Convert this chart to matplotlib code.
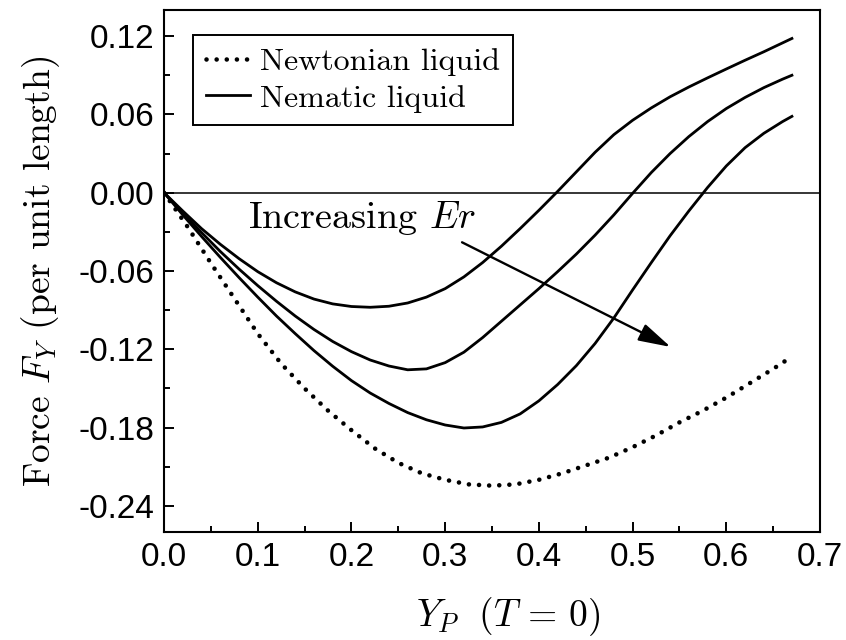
import numpy as np
import matplotlib
matplotlib.use("Agg")
import matplotlib.pyplot as plt
from matplotlib.ticker import MultipleLocator, FormatStrFormatter

plt.rcParams["mathtext.fontset"] = "cm"
plt.rcParams["axes.unicode_minus"] = False

# particle position Y_P for the nematic runs
yp = [0.0, 0.02, 0.04, 0.06, 0.08, 0.10, 0.12, 0.14, 0.16, 0.18, 0.20,
      0.22, 0.24, 0.26, 0.28, 0.30, 0.32, 0.34, 0.36, 0.38, 0.40, 0.42,
      0.44, 0.46, 0.48, 0.50, 0.52, 0.54, 0.56, 0.58, 0.60, 0.62, 0.64,
      0.66, 0.67]

# transverse force per unit length, three Ericksen numbers
nematic_low = [0.0, -0.014, -0.0275, -0.0395, -0.0505, -0.0605, -0.069,
               -0.076, -0.0815, -0.0852, -0.0872, -0.0878, -0.087, -0.0845,
               -0.080, -0.0735, -0.0645, -0.0535, -0.041, -0.0275, -0.0135,
               0.001, 0.016, 0.031, 0.0445, 0.0555, 0.065, 0.0735, 0.081,
               0.088, 0.0948, 0.1015, 0.108, 0.1148, 0.1182]

nematic_mid = [0.0, -0.0155, -0.0305, -0.045, -0.0585, -0.0712, -0.0832,
               -0.0945, -0.1048, -0.114, -0.1218, -0.1282, -0.1328,
               -0.1357, -0.135, -0.1302, -0.1222, -0.111, -0.0985, -0.086,
               -0.0735, -0.0605, -0.047, -0.0325, -0.017, -0.0005, 0.0155,
               0.030, 0.043, 0.0545, 0.0645, 0.073, 0.0805, 0.087, 0.090]

nematic_high = [0.0, -0.017, -0.0335, -0.0495, -0.065, -0.080, -0.0945,
                -0.108, -0.121, -0.133, -0.144, -0.1535, -0.1615, -0.1685,
                -0.174, -0.178, -0.1803, -0.1795, -0.176, -0.1695, -0.1595,
                -0.147, -0.1325, -0.1155, -0.096, -0.0745, -0.0535, -0.033,
                -0.014, 0.004, 0.0205, 0.0345, 0.0455, 0.0545, 0.0585]

# Newtonian reference case
yp_newt = [0.0, 0.025, 0.05, 0.075, 0.1, 0.125, 0.15, 0.175, 0.2, 0.225,
           0.25, 0.275, 0.3, 0.325, 0.35, 0.375, 0.4, 0.425, 0.45, 0.475,
           0.5, 0.525, 0.55, 0.575, 0.6, 0.625, 0.65, 0.667]
newtonian = [0.0, -0.026, -0.054, -0.081, -0.108, -0.131, -0.150, -0.167,
             -0.182, -0.196, -0.207, -0.215, -0.220, -0.2235, -0.2245,
             -0.2235, -0.220, -0.215, -0.209, -0.203, -0.195, -0.186, -0.176,
             -0.167, -0.157, -0.146, -0.135, -0.127]

serif = "cmr10"
dotted = (0, (0.01, 2.2))

fig = plt.figure(figsize=(8.46, 6.40), dpi=100)
ax = fig.add_axes([0.1939, 0.16875, 0.7754, 0.8156])

ax.axhline(0.0, color="k", lw=1.1)
ax.plot(yp_newt, newtonian, color="k", lw=3.3, linestyle=dotted,
        dash_capstyle="round", label="Newtonian liquid")
ax.plot(yp, nematic_low, color="k", lw=2.0, label="Nematic liquid")
ax.plot(yp, nematic_mid, color="k", lw=2.0)
ax.plot(yp, nematic_high, color="k", lw=2.0)

ax.annotate("", xy=(0.5406, -0.1182), xytext=(0.318, -0.038),
            arrowprops=dict(arrowstyle="-|>,head_length=0.9,head_width=0.25",
                            lw=1.7, color="k", mutation_scale=22,
                            shrinkA=0, shrinkB=0))
ax.text(0.0897, -0.019, r"Increasing $Er$", fontsize=27.5, family=serif,
        va="center", ha="left")

ax.set_xlim(0.0, 0.7)
ax.set_ylim(-0.26, 0.14)
ax.xaxis.set_major_locator(MultipleLocator(0.1))
ax.xaxis.set_minor_locator(MultipleLocator(0.05))
ax.yaxis.set_major_locator(MultipleLocator(0.06))
ax.yaxis.set_minor_locator(MultipleLocator(0.03))
ax.xaxis.set_major_formatter(FormatStrFormatter("%.1f"))
ax.yaxis.set_major_formatter(FormatStrFormatter("%.2f"))
ax.tick_params(which="both", direction="in", width=1.4, top=False, right=False)
ax.tick_params(which="major", length=7, pad=7)
ax.tick_params(which="minor", length=4)
for lab in ax.get_xticklabels() + ax.get_yticklabels():
    lab.set_family("Liberation Sans")
    lab.set_fontsize(24)
for sp in ax.spines.values():
    sp.set_linewidth(1.5)

ax.set_xlabel(r"$Y_P\ \ (T\,=\,0)$", fontsize=27, labelpad=16, x=0.524)
ax.set_ylabel(r"Force $F_Y$ (per unit length)", fontsize=27, family=serif,
              labelpad=12)

leg = ax.legend(loc="upper left", bbox_to_anchor=(0.044, 0.952),
                borderaxespad=0, prop={"family": serif, "size": 23},
                handlelength=1.4, handletextpad=0.3, labelspacing=0.25,
                borderpad=0.4, fancybox=False, framealpha=1,
                edgecolor="k")
leg.get_frame().set_linewidth(1.4)

fig.savefig("out.png", dpi=100)
